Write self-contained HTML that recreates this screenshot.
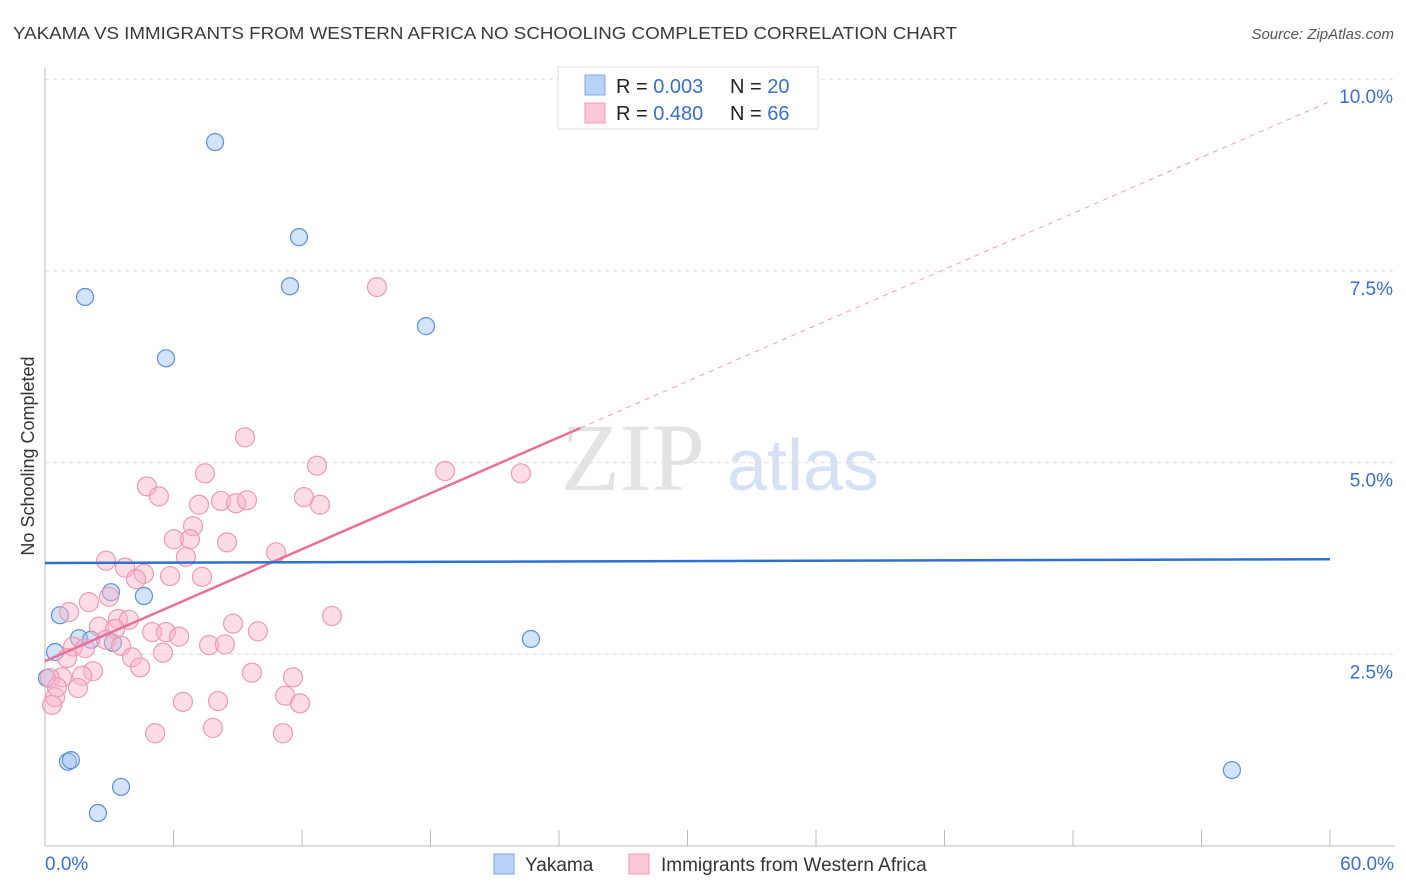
<!DOCTYPE html>
<html><head><meta charset="utf-8"><style>
body{margin:0;background:#fff;font-family:"Liberation Sans",sans-serif;}
svg{display:block}
</style></head><body>
<svg id="chart" width="1406" height="892" xmlns="http://www.w3.org/2000/svg">
<text x="13" y="39" font-size="17.5" fill="#3a3a3a" textLength="944" lengthAdjust="spacingAndGlyphs">YAKAMA VS IMMIGRANTS FROM WESTERN AFRICA NO SCHOOLING COMPLETED CORRELATION CHART</text>
<text x="1394" y="39" font-size="15" fill="#555" text-anchor="end" font-style="italic">Source: ZipAtlas.com</text>
<g>
<text x="633" y="490" font-size="96" font-family="Liberation Serif,serif" fill="#e3e3e3" text-anchor="middle">ZIP</text>
<text x="803" y="490" font-size="72" fill="#d6e2f3" text-anchor="middle">atlas</text>
</g>
<g id="grid"></g>
<g id="axes"></g>
<g id="marks"></g>
<text transform="translate(34,456) rotate(-90)" font-size="18" fill="#333" text-anchor="middle">No Schooling Completed</text>
<g>
<rect x="558" y="67" width="260" height="62" fill="#fff" stroke="#ddd"/>
<rect x="585" y="75" width="20" height="20" fill="#b8d2f5" stroke="#7aa8e6"/>
<rect x="585" y="103" width="20" height="20" fill="#fac8d6" stroke="#f09ab2"/>
<text x="616" y="93" font-size="20" fill="#222">R = <tspan fill="#3a70c8">0.003</tspan><tspan x="730">N = </tspan><tspan fill="#3a70c8">20</tspan></text>
<text x="616" y="120" font-size="20" fill="#222">R = <tspan fill="#3a70c8">0.480</tspan><tspan x="730">N = </tspan><tspan fill="#3a70c8">66</tspan></text>
</g>
<g>
<rect x="494" y="854" width="20" height="20" fill="#b8d2f5" stroke="#7aa8e6"/>
<text x="525" y="871" font-size="19" fill="#333">Yakama</text>
<rect x="629" y="854" width="20" height="20" fill="#fac8d6" stroke="#f09ab2"/>
<text x="661" y="871" font-size="19" fill="#333">Immigrants from Western Africa</text>
</g>
</svg>
<script>
const blueX=[7.94,11.86,1.87,11.44,5.65,17.79,0.70,3.08,4.62,1.59,2.15,3.17,0.47,0.09,22.69,1.07,1.21,3.55,2.47,55.42];
const blueY=[9.18,7.94,7.16,7.30,6.36,6.78,3.01,3.31,3.26,2.71,2.69,2.65,2.53,2.19,2.70,1.10,1.12,0.77,0.43,0.99];
const pinkX=[9.34,12.70,7.47,4.76,5.32,7.19,8.22,8.92,9.43,12.09,12.84,6.91,6.02,6.77,8.50,6.58,10.79,2.85,3.74,4.62,4.25,5.84,7.33,2.99,2.05,1.12,13.40,3.41,3.92,2.52,8.78,9.94,5.00,5.65,6.26,3.27,2.85,1.31,1.87,3.55,7.66,8.40,1.03,4.06,4.44,5.51,2.24,1.73,0.79,0.23,1.54,11.58,9.66,11.21,11.91,6.44,8.08,5.14,7.84,11.11,0.47,0.33,0.56,15.50,18.68,22.22];
const pinkY=[5.33,4.96,4.86,4.69,4.56,4.45,4.50,4.47,4.51,4.55,4.45,4.17,4.00,4.00,3.96,3.77,3.83,3.72,3.63,3.55,3.48,3.52,3.51,3.25,3.18,3.05,3.00,2.96,2.95,2.86,2.90,2.80,2.79,2.79,2.73,2.83,2.69,2.60,2.58,2.61,2.62,2.63,2.45,2.46,2.33,2.52,2.28,2.22,2.20,2.19,2.06,2.20,2.26,1.96,1.86,1.88,1.89,1.47,1.54,1.47,1.94,1.84,2.07,7.29,4.89,4.86];
const yTicks=[2.5,5,7.5,10];
const yTickLabels=["2.5%","5.0%","7.5%","10.0%"];
const xTicks=[0,6,12,18,24,30,36,42,48,54,60];
const xEndLabels=["0.0%","60.0%"];
const blueTrend=[3.69,3.74];
const pinkTrend=[2.41,9.71];
const pinkSolidEnd=25;

const NS="http://www.w3.org/2000/svg";
const X=v=>45+v/60*1285;
const Y=v=>846-v*76.68;
function mk(tag,attrs,parent){const e=document.createElementNS(NS,tag);for(const k in attrs)e.setAttribute(k,attrs[k]);document.getElementById(parent).appendChild(e);return e;}
yTicks.forEach((t,i)=>{
  const l=mk('line',{x1:45,x2:1395,y1:Y(t),y2:Y(t),stroke:'#ddd','stroke-dasharray':'4,4'},'grid');
  
  
  const tx=mk('text',{x:1393,y:Y(t)+24,'font-size':19,fill:'#3a70c8','text-anchor':'end'},'axes');
  tx.textContent=yTickLabels[i];
  
  
});
let a=mk('line',{x1:45,x2:45,y1:68,y2:846,stroke:'#bbb'},'axes');


a=mk('line',{x1:45,x2:1395,y1:846,y2:846,stroke:'#bbb'},'axes');


xTicks.forEach(t=>{
  const l=mk('line',{x1:X(t),x2:X(t),y1:830,y2:846,stroke:'#bbb'},'axes');
  
  
});
[[0,'start',45],[60,'end',1394]].forEach((d,i)=>{
  const tx=mk('text',{x:d[2],y:870,'font-size':19,fill:'#3a70c8','text-anchor':d[1]},'axes');
  tx.textContent=xEndLabels[i];
  
  
});
blueX.forEach((x,i)=>{
  const c=mk('circle',{cx:X(x),cy:Y(blueY[i]),r:8.5,fill:'rgba(160,195,240,0.45)',stroke:'#5b8fd6','stroke-width':1.2},'marks');
  
  
});
pinkX.forEach((x,i)=>{
  const c=mk('circle',{cx:X(x),cy:Y(pinkY[i]),r:9.5,fill:'rgba(248,180,200,0.45)',stroke:'#ee9ab2','stroke-width':1.2},'marks');
  
  
});
const pAt=v=>pinkTrend[0]+(pinkTrend[1]-pinkTrend[0])*v/60;
let t=mk('line',{x1:X(pinkSolidEnd),y1:Y(pAt(pinkSolidEnd)),x2:X(60),y2:Y(pinkTrend[1]),stroke:'#eaa0b5','stroke-dasharray':'5,5','stroke-width':1},'marks');


t=mk('line',{x1:X(0),y1:Y(pinkTrend[0]),x2:X(pinkSolidEnd),y2:Y(pAt(pinkSolidEnd)),stroke:'#e8709a','stroke-width':2.5},'marks');


t=mk('line',{x1:X(0),y1:Y(blueTrend[0]),x2:X(60),y2:Y(blueTrend[1]),stroke:'#2f6fd0','stroke-width':2.5},'marks');


</script>
</body></html>
